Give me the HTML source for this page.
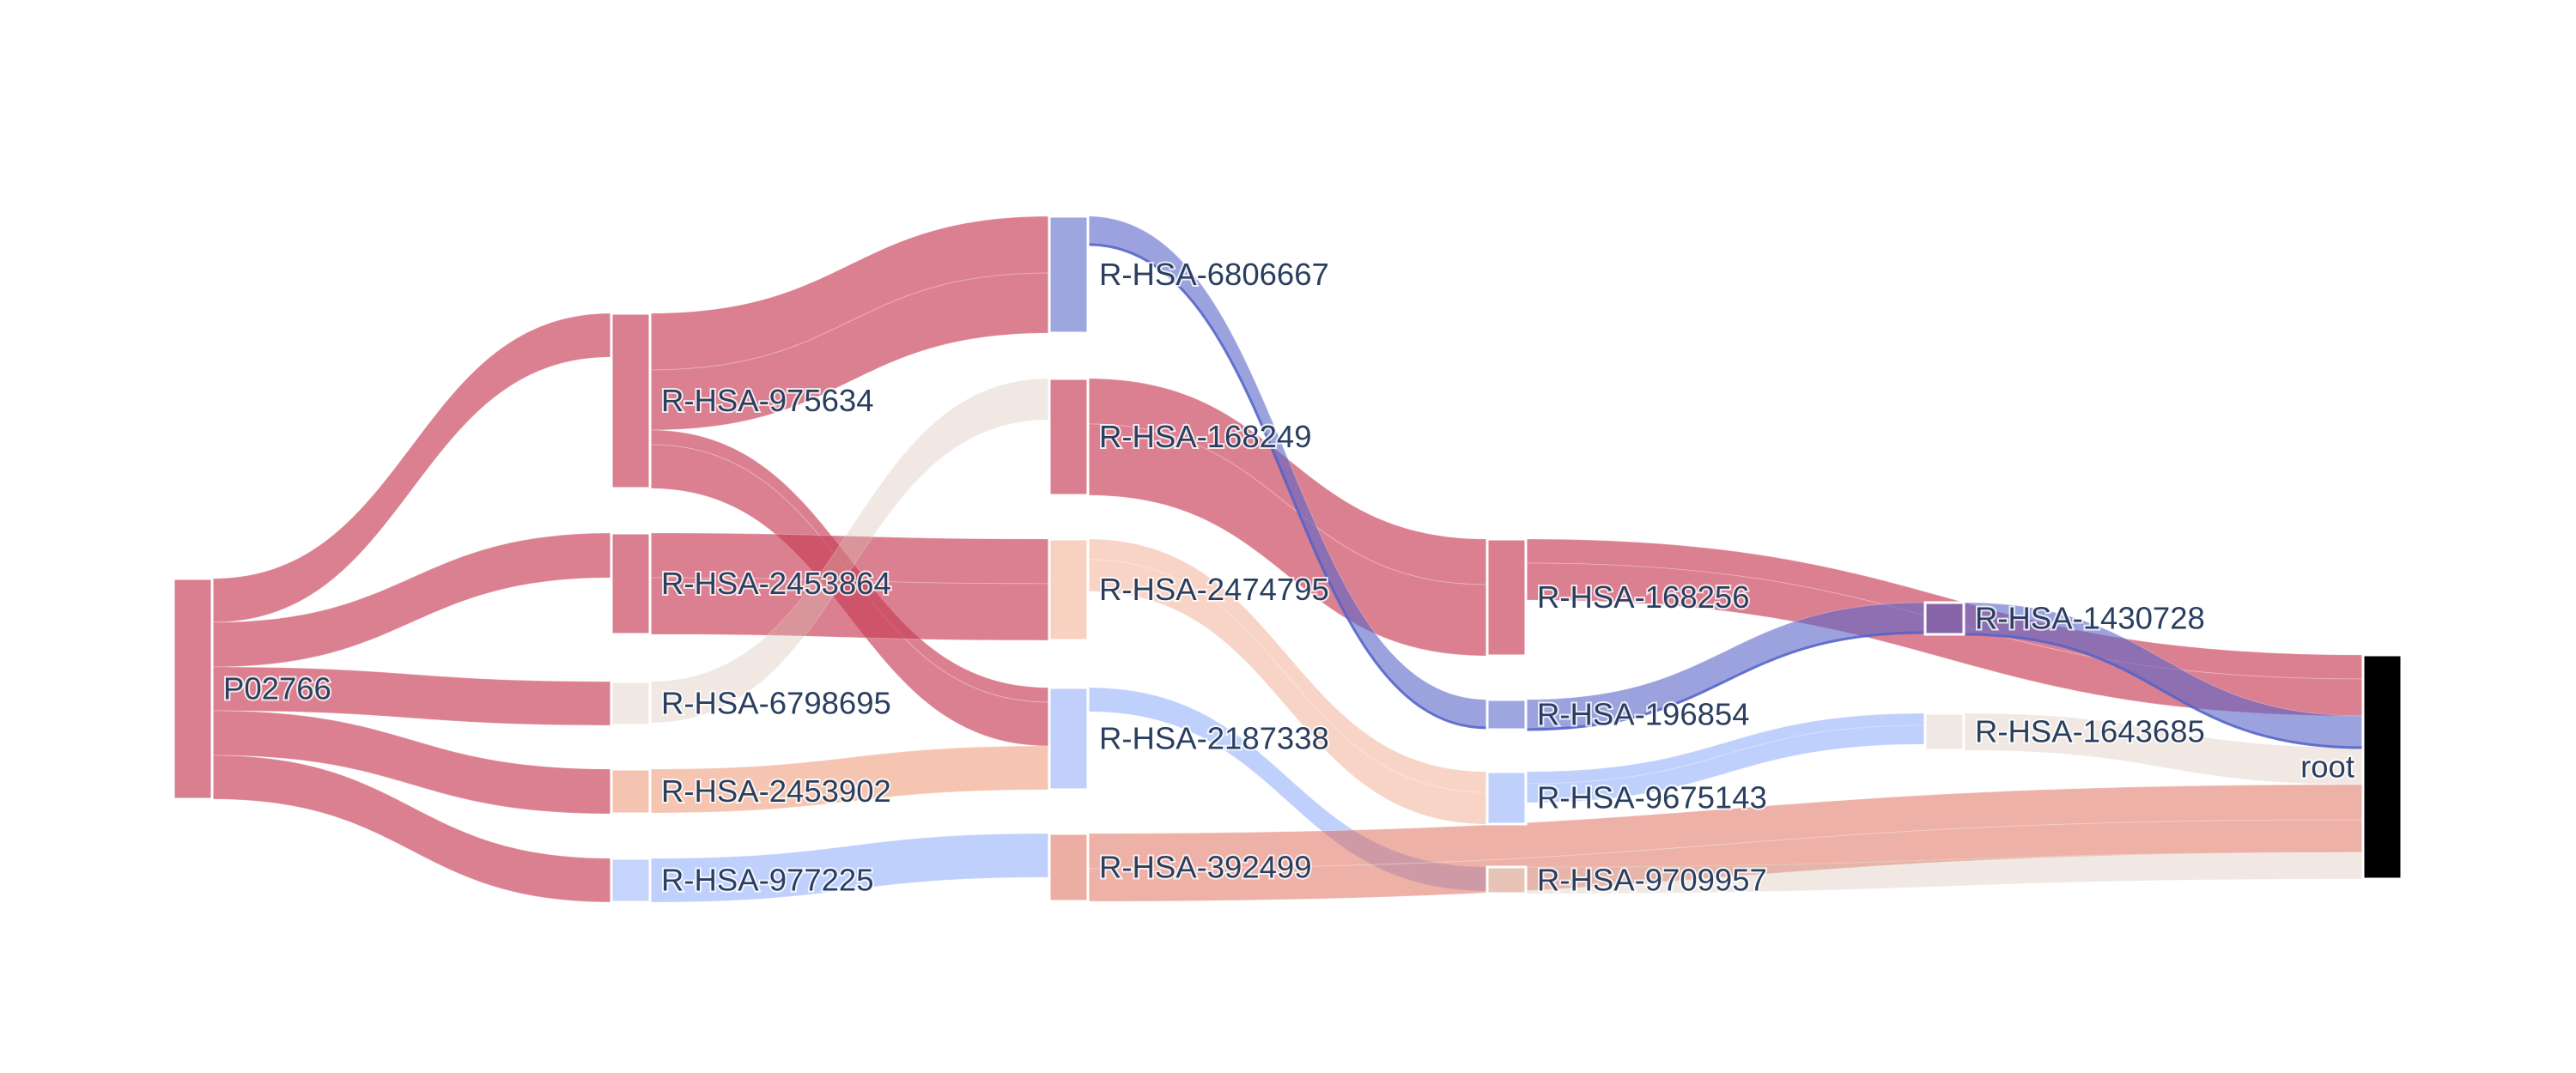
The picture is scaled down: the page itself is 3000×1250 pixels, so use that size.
<!DOCTYPE html>
<html><head><meta charset="utf-8"><style>
html,body{margin:0;padding:0;background:#fff;}
svg{display:block;}
text{font-family:"Liberation Sans",sans-serif;}
</style></head>
<body>
<svg id="chart" width="3000" height="1250" viewBox="0 0 3000 1250" xmlns="http://www.w3.org/2000/svg">
<rect width="3000" height="1250" fill="#fff"/>
<g id="links"></g>
<g id="links-top"></g>
<g id="nodes"></g>
<g id="labels"></g>
</svg>
<script>
// ---- data ----
const nodeNames = ["P02766","R-HSA-975634","R-HSA-2453864","R-HSA-6798695","R-HSA-2453902","R-HSA-977225",
  "R-HSA-6806667","R-HSA-168249","R-HSA-2474795","R-HSA-2187338","R-HSA-392499",
  "R-HSA-168256","R-HSA-196854","R-HSA-9675143","R-HSA-9709957",
  "R-HSA-1430728","R-HSA-1643685","root"];
const nodeColumn = [0,1,1,1,1,1,2,2,2,2,2,3,3,3,3,4,4,5];
const nodeColors = ["#d97f8f","#d97f8f","#d97f8f","#f0e8e4","#f5c4b0","#c4d4fb",
  "#9ea6e0","#d97f8f","#f9d1c1","#c0d0fb","#ecaea2",
  "#d97f8f","#9ea6e0","#bfd0fb","#e8c4b8",
  "#8864a8","#f0e8e4","#000000"];
const linkSource = [0,0,0,0,0, 1,1,1,1, 2,2, 3, 4, 5, 7,7, 8,8, 9, 6, 12, 13,13, 11,11, 15, 16, 10,10, 14];
const linkTarget = [1,2,3,4,5, 6,6,9,9, 8,8, 7, 9, 10, 11,11, 13,13, 14, 12, 15, 16,16, 17,17, 17, 17, 17,17, 17];
const linkValue  = [51,52,51,52,51, 66,70,17,51, 52,66, 48, 51, 51, 53,83, 24,37, 28, 33, 35, 14,22, 28,43, 37, 43, 41,38, 31];
const R="rgba(200,60,85,0.65)", B="rgba(90,100,200,0.6)", LB="rgba(140,170,250,0.55)", BE="rgba(215,190,175,0.35)";
const linkColors = [R,R,R,R,R, R,R,R,R, R,R, BE,"rgba(235,140,100,0.5)",LB, R,R,
  "rgba(240,160,130,0.45)","rgba(240,160,130,0.45)",LB, B,B, LB,LB, R,R, B, BE,
  "rgba(220,100,80,0.5)","rgba(220,100,80,0.5)",BE];
const linkOutlined = [0,0,0,0,0, 0,0,0,0, 0,0, 0,0,0, 0,0, 0,0,0, 1,1, 0,0, 0,0, 1, 0, 0,0, 0];
// ---- layout ----
const nodeTop = [674,365,621,794,896,1000, 252,441,628,801,971, 628,815,899,1010, 702,831,763];
const colX0 = 202, colStep = 510, nodeW = 45, k = 1;
const NS = "http://www.w3.org/2000/svg";
function colX(c){ return colX0 + c*colStep; }
const n = nodeNames.length;
const inSum = new Array(n).fill(0), outSum = new Array(n).fill(0);
linkValue.forEach((v,i)=>{ outSum[linkSource[i]] += v; inSum[linkTarget[i]] += v; });
const nodeH = nodeNames.map((_,i)=> Math.max(inSum[i], outSum[i]) * k);
const outOff = nodeTop.slice(), inOff = nodeTop.slice();
const gL = document.getElementById('links'), gLT = document.getElementById('links-top');
linkValue.forEach((v,i)=>{
  const s = linkSource[i], t = linkTarget[i], w = v*k;
  const x0 = colX(nodeColumn[s]) + nodeW, x1 = colX(nodeColumn[t]);
  const y0 = outOff[s], y1 = inOff[t];
  outOff[s] += w; inOff[t] += w;
  const xm = (x0+x1)/2;
  const d = `M${x0},${y0} C${xm},${y0} ${xm},${y1} ${x1},${y1} L${x1},${y1+w} C${xm},${y1+w} ${xm},${y0+w} ${x0},${y0+w} Z`;
  const g = linkOutlined[i] ? gLT : gL;
  const p = document.createElementNS(NS,'path');
  p.setAttribute('d', d);
  p.setAttribute('fill', linkColors[i]);
  p.setAttribute('stroke', 'rgba(255,255,255,0.25)');
  p.setAttribute('stroke-width', '1');
  
  
  g.appendChild(p);
  if (linkOutlined[i]) {
    const o = document.createElementNS(NS,'path');
    o.setAttribute('d', `M${x0},${y0+w} C${xm},${y0+w} ${xm},${y1+w} ${x1},${y1+w}`);
    o.setAttribute('fill', 'none');
    o.setAttribute('stroke', 'rgba(80,95,200,0.85)');
    o.setAttribute('stroke-width', '3');
    
    
    g.appendChild(o);
  }
});
const gN = document.getElementById('nodes'), gT = document.getElementById('labels');
nodeNames.forEach((name,i)=>{
  const x = colX(nodeColumn[i]), y = nodeTop[i], h = nodeH[i];
  const r = document.createElementNS(NS,'rect');
  r.setAttribute('x', x); r.setAttribute('y', y);
  r.setAttribute('width', nodeW); r.setAttribute('height', h);
  r.setAttribute('fill', nodeColors[i]);
  r.setAttribute('stroke', '#fff'); r.setAttribute('stroke-width', '3');
  
  
  gN.appendChild(r);
  const t = document.createElementNS(NS,'text');
  const isLast = nodeColumn[i] === 5;
  t.setAttribute('x', isLast ? x - 10 : x + nodeW + 13);
  t.setAttribute('y', y + h/2 + 12);
  t.setAttribute('text-anchor', isLast ? 'end' : 'start');
  t.setAttribute('font-size', '36.5');
  t.setAttribute('fill', '#2a3f5f');
  t.setAttribute('stroke', 'rgba(255,255,255,0.8)');
  t.setAttribute('stroke-width', '4');
  t.setAttribute('paint-order', 'stroke');
  t.textContent = name;
  
  
  gT.appendChild(t);
});
</script>
</body></html>
